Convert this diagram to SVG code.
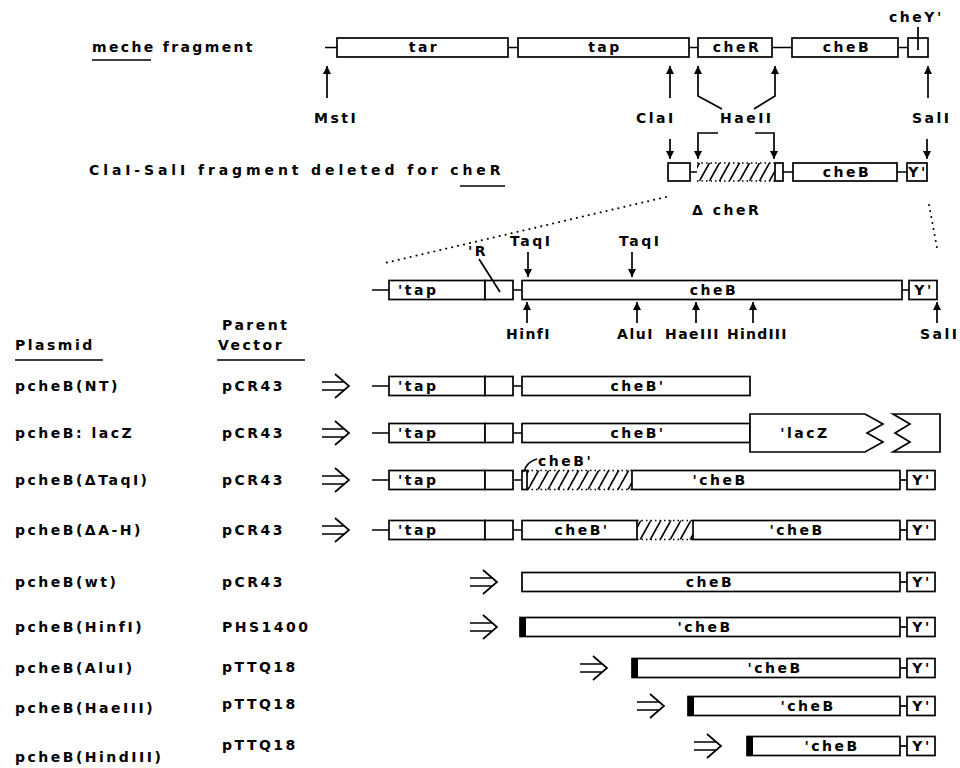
<svg xmlns="http://www.w3.org/2000/svg" width="960" height="768" viewBox="0 0 960 768">
<defs>
<style>
text{font-family:"DejaVu Sans","Liberation Sans",sans-serif;font-weight:bold;font-size:14px;letter-spacing:2.5px;fill:#000}
.c{text-anchor:middle}
.bx{fill:#fff;stroke:#000;stroke-width:1.7}
.ln{fill:none;stroke:#000;stroke-width:1.7}
.ar{fill:none;stroke:#000;stroke-width:1.7;marker-end:url(#ah)}
.dt{fill:none;stroke:#000;stroke-width:2;stroke-dasharray:0.1 6;stroke-linecap:round}
.ht{fill:url(#hatch);stroke:none}
.he{fill:none;stroke:#000;stroke-width:1.4;stroke-dasharray:1.5 3}
.bar{fill:#000}
</style>
<marker id="ah" viewBox="0 0 8 8" refX="8" refY="4" markerWidth="8" markerHeight="8" markerUnits="userSpaceOnUse" orient="auto"><path d="M0,0L8,4L0,8z"/></marker>
<pattern id="hatch" patternUnits="userSpaceOnUse" width="10" height="18"><path d="M0,18L10,0M-10,18L0,0M10,18L20,0" stroke="#000" stroke-width="1.6"/></pattern>
<g id="dbl"><path d="M0,-4H23M0,4H23M13,-12L27,0L13,12" fill="none" stroke="#000" stroke-width="1.7"/></g>
<g id="tapR">
<path class="ln" d="M372,0H389M513,0H522"/>
<rect class="bx" x="389" y="-9.5" width="96" height="19"/>
<rect class="bx" x="485" y="-9.5" width="28" height="19"/>
<text x="398" y="5">'tap</text>
</g>
<g id="yEnd">
<path class="ln" d="M900,0H907"/>
<rect class="bx" x="907" y="-9.5" width="28" height="19"/>
<text class="c" x="922" y="5">Y'</text>
</g>
</defs>
<rect width="960" height="768" fill="#fff"/>

<!-- full meche fragment -->
<g id="meche">
<text x="92" y="52" textLength="163">meche fragment</text>
<path class="ln" d="M92,60H151"/>
<path class="ln" d="M325,47.5H337M508,47.5H518M689,47.5H698M772,47.5H792M898,47.5H908"/>
<rect class="bx" x="337" y="38" width="171" height="19"/>
<rect class="bx" x="518" y="38" width="171" height="19"/>
<rect class="bx" x="698" y="38" width="74" height="19"/>
<rect class="bx" x="792" y="38" width="106" height="19"/>
<rect class="bx" x="908" y="38" width="20" height="19"/>
<text class="c" x="424" y="52">tar</text>
<text class="c" x="605" y="52">tap</text>
<text class="c" x="737" y="52">cheR</text>
<text class="c" x="847" y="52">cheB</text>
<text x="889" y="22">cheY'</text>
<path class="ln" d="M918,27V50"/>
</g>

<!-- restriction sites on the meche fragment -->
<g id="sites1">
<text x="314" y="123">MstI</text>
<text x="636" y="123">ClaI</text>
<text x="720" y="123">HaeII</text>
<text x="912" y="123">SalI</text>
</g>

<!-- ClaI-SalI fragment with the cheR deletion -->
<g id="delR">
<text x="89" y="175" textLength="414">ClaI-SalI fragment deleted for cheR</text>
<path class="ln" d="M460,186H505"/>
<path class="ln" d="M690,172H697M783,172H793M897,172H907"/>
<rect class="bx" x="668" y="163" width="22" height="18"/>
<rect class="ht" x="697" y="163" width="78" height="18"/>
<path class="he" d="M697,163H775M697,181H775"/>
<rect class="bx" x="775" y="163" width="8" height="18"/>
<rect class="bx" x="793" y="163" width="104" height="18"/>
<rect class="bx" x="907" y="163" width="20" height="18"/>
<text class="c" x="847" y="177">cheB</text>
<text class="c" x="918" y="177">Y'</text>
<text x="692" y="215">Δ cheR</text>
</g>

<!-- expanded cheB region -->
<g id="expanded" transform="translate(0,290)">
<path class="ln" d="M372,0H389M513,0H522M902,0H909"/>
<rect class="bx" x="389" y="-9.5" width="96" height="19"/>
<rect class="bx" x="485" y="-9.5" width="28" height="19"/>
<rect class="bx" x="522" y="-9.5" width="380" height="19"/>
<rect class="bx" x="909" y="-9.5" width="28" height="19"/>
<text x="398" y="5">'tap</text>
<text class="c" x="714" y="5">cheB</text>
<text class="c" x="924" y="5">Y'</text>
<text x="468" y="-34">'R</text>
<path class="ln" d="M479,-31L500,2"/>
<text x="510" y="-44">TaqI</text>
<text x="619" y="-44">TaqI</text>
<text x="506" y="49" textLength="46">HinfI</text>
<text x="617" y="49" textLength="38">AluI</text>
<text x="665" y="49" textLength="56">HaeIII</text>
<text x="727" y="49" textLength="62">HindIII</text>
<text x="920" y="49">SalI</text>
</g>

<!-- table headings -->
<g id="heads">
<text x="15" y="350">Plasmid</text>
<path class="ln" d="M15,360H103M217,360H305"/>
<text x="222" y="330">Parent</text>
<text x="218" y="350">Vector</text>
</g>

<g id="pNT">
<text x="15" y="391">pcheB(NT)</text>
<text x="222" y="391">pCR43</text>
<use href="#dbl" transform="translate(322,386)"/>
<use href="#tapR" transform="translate(0,386)"/>
<rect class="bx" x="522" y="376.5" width="228" height="19"/>
<text class="c" x="638" y="391">cheB'</text>
</g>

<g id="pLacZ">
<text x="15" y="438">pcheB: lacZ</text>
<text x="222" y="438">pCR43</text>
<use href="#dbl" transform="translate(322,433)"/>
<use href="#tapR" transform="translate(0,433)"/>
<rect class="bx" x="522" y="423.5" width="228" height="19"/>
<text class="c" x="638" y="438">cheB'</text>
<path class="bx" d="M750,414H865L883,424L867,433L883,442L865,452H750Z"/>
<path class="bx" d="M893,414H940V452H893L910,442L895,433L910,424Z"/>
<text class="c" x="805" y="438">'lacZ</text>
</g>

<g id="pTaq">
<text x="15" y="485">pcheB(ΔTaqI)</text>
<text x="222" y="485">pCR43</text>
<use href="#dbl" transform="translate(322,480)"/>
<use href="#tapR" transform="translate(0,480)"/>
<rect class="bx" x="522" y="470.5" width="5" height="19"/>
<rect class="ht" x="527" y="470.5" width="105" height="19"/>
<path class="he" d="M527,470.5H632M527,489.5H632"/>
<rect class="bx" x="632" y="470.5" width="268" height="19"/>
<text class="c" x="720" y="485">'cheB</text>
<use href="#yEnd" transform="translate(0,480)"/>
<text x="538" y="466">cheB'</text>
<path class="ln" d="M524,472Q526,462 537,459"/>
</g>

<g id="pAH">
<text x="15" y="535">pcheB(ΔA-H)</text>
<text x="222" y="535">pCR43</text>
<use href="#dbl" transform="translate(322,530)"/>
<use href="#tapR" transform="translate(0,530)"/>
<rect class="bx" x="522" y="520.5" width="115" height="19"/>
<text class="c" x="582" y="535">cheB'</text>
<rect class="ht" x="637" y="520.5" width="56" height="19"/>
<path class="he" d="M637,520.5H693M637,539.5H693"/>
<rect class="bx" x="693" y="520.5" width="207" height="19"/>
<text class="c" x="797" y="535">'cheB</text>
<use href="#yEnd" transform="translate(0,530)"/>
</g>

<g id="pWT">
<text x="15" y="587">pcheB(wt)</text>
<text x="222" y="587">pCR43</text>
<use href="#dbl" transform="translate(470,582)"/>
<rect class="bx" x="522" y="572.5" width="378" height="19"/>
<text class="c" x="710" y="587">cheB</text>
<use href="#yEnd" transform="translate(0,582)"/>
</g>

<g id="pHinf">
<text x="15" y="632">pcheB(HinfI)</text>
<text x="222" y="632">PHS1400</text>
<use href="#dbl" transform="translate(470,627)"/>
<rect class="bx" x="520" y="617.5" width="380" height="19"/>
<rect class="bar" x="520" y="617.5" width="6" height="19"/>
<text class="c" x="705" y="632">'cheB</text>
<use href="#yEnd" transform="translate(0,627)"/>
</g>

<g id="pAlu">
<text x="15" y="673">pcheB(AluI)</text>
<text x="222" y="672">pTTQ18</text>
<use href="#dbl" transform="translate(580,668)"/>
<rect class="bx" x="632" y="658.5" width="268" height="19"/>
<rect class="bar" x="632" y="658.5" width="6" height="19"/>
<text class="c" x="775" y="673">'cheB</text>
<use href="#yEnd" transform="translate(0,668)"/>
</g>

<g id="pHae">
<text x="15" y="713">pcheB(HaeIII)</text>
<text x="222" y="709">pTTQ18</text>
<use href="#dbl" transform="translate(637,706)"/>
<rect class="bx" x="688" y="696.5" width="212" height="19"/>
<rect class="bar" x="688" y="696.5" width="6" height="19"/>
<text class="c" x="808" y="711">'cheB</text>
<use href="#yEnd" transform="translate(0,706)"/>
</g>

<g id="pHind">
<text x="15" y="762">pcheB(HindIII)</text>
<text x="222" y="750">pTTQ18</text>
<use href="#dbl" transform="translate(694,746)"/>
<rect class="bx" x="747" y="736.5" width="153" height="19"/>
<rect class="bar" x="747" y="736.5" width="6" height="19"/>
<text class="c" x="832" y="751">'cheB</text>
<use href="#yEnd" transform="translate(0,746)"/>
</g>

<!-- site arrows, bent HaeII arrows and the dotted expansion guides -->
<g id="connectors">
<path class="ar" d="M327,98V66"/>
<path class="ar" d="M670,98V66"/>
<path class="ar" d="M722,109L698,96V66"/>
<path class="ar" d="M754,109L775,96V66"/>
<path class="ar" d="M928,98V66"/>
<path class="ar" d="M670,139V159"/>
<path class="ar" d="M718,133H698V159"/>
<path class="ar" d="M755,133H774V159"/>
<path class="ar" d="M927,139V159"/>
<path class="dt" d="M666,197L385,263"/>
<path class="dt" d="M929,205L937,248"/>
<path class="ar" d="M528,252V277"/>
<path class="ar" d="M632,252V277"/>
<path class="ar" d="M527,323V302"/>
<path class="ar" d="M637,323V302"/>
<path class="ar" d="M696,323V302"/>
<path class="ar" d="M753,323V302"/>
<path class="ar" d="M937,323V302"/>
</g>
</svg>
